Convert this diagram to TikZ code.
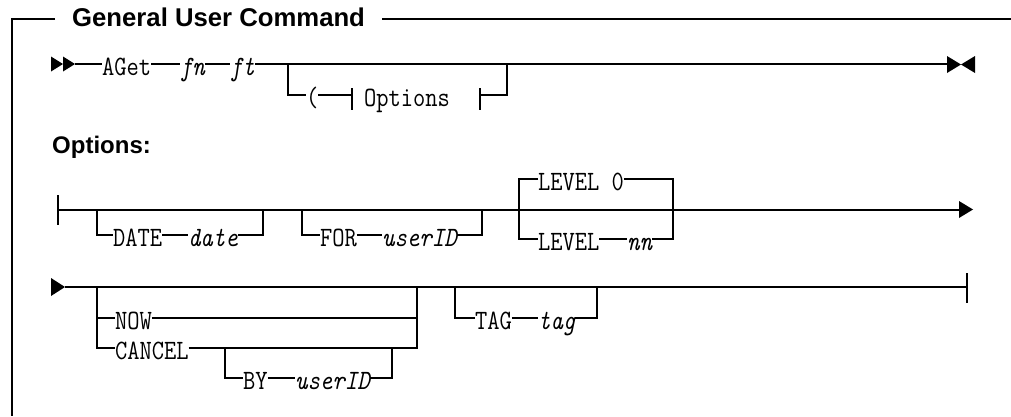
\documentclass[tikz,border=0pt]{standalone}
\usepackage{fontspec}
\setmainfont{Liberation Sans}
\newfontfamily\railmono[FakeStretch=0.85]{Latin Modern Mono}
\newcommand\railtxt{\railmono\fontsize{28}{32}\selectfont}
\tikzset{
  rail/.style={line width=1.3pt, line join=miter},
  frameline/.style={line width=1.8pt},
  kw/.style={inner sep=0pt, outer sep=0pt, text height=23pt, text depth=0pt,
             anchor=west, font=\railtxt},
  var/.style={kw, font=\railtxt\itshape},
  heading/.style={inner sep=0pt, anchor=base west,
                  font=\bfseries\fontsize{24}{28}\selectfont},
  tip/.style={fill=black}
}
\begin{document}
\begin{tikzpicture}[x=1pt,y=-1pt]
\useasboundingbox (0,0) rectangle (1011,416);

% ---- frame and title ----
\node[heading, font=\bfseries\fontsize{25.7}{30}\selectfont] (title) at (72,26) {General User Command};
\coordinate (frTL) at (12,19);
\draw[frameline] (55,19) -- (frTL) -- (12,416);
\draw[frameline] (382,19) -- (1011,19);

% ---- main command ----
\fill[tip] (51,56.5) -- (63,64) -- (51,71.5) -- cycle;
\fill[tip] (63,56.5) -- (75,64) -- (63,71.5) -- cycle;
\coordinate (m1s) at (75,64);
\coordinate (m1e) at (947,64);
\node[kw]  (kAGet) at (102,64) {AGet};
\node[var] (vfn)   at (180,64) {fn};
\node[var] (vft)   at (230,64) {ft};
\draw[rail] (m1s) -- (kAGet.west);
\draw[rail] (kAGet.east) -- (vfn.west);
\draw[rail] (vfn.east) -- (vft.west);
\draw[rail] (vft.east) -- (m1e);
\fill[tip] (947,56) -- (961,64.5) -- (947,73) -- cycle;
\fill[tip] (975,56) -- (961,64.5) -- (975,73) -- cycle;

% optional options fragment
\node[kw] (kparen) at (306,95) {(};
\node[kw] (kopts)  at (364,95) {Options};
\coordinate (barL) at (352,95);
\coordinate (barR) at (480,95);
\draw[rail] (288,64) |- (kparen.west);
\draw[rail] (kparen.east) -- (barL);
\draw[rail] (352,88) -- (352,110);
\draw[rail] (480,88) -- (480,110);
\draw[rail] (barR) -| (507,64);

% ---- options fragment ----
\node[heading] (opthead) at (52,153) {Options:};

% first line
\coordinate (m2s) at (58,210);
\coordinate (m2e) at (959,210);
\draw[rail] (58,195) -- (58,225);
\draw[rail] (m2s) -- (m2e);
\fill[tip] (959,201) -- (973,209.5) -- (959,218) -- cycle;

\node[kw]  (kDATE) at (113,235) {DATE};
\node[var] (vdate) at (188,235) {date};
\draw[rail] (97,210) |- (kDATE.west);
\draw[rail] (kDATE.east) -- (vdate.west);
\draw[rail] (vdate.east) -| (263,210);

\node[kw]  (kFOR)  at (320,235) {FOR};
\node[var] (vuid1) at (382,235) {userID};
\draw[rail] (302,210) |- (kFOR.west);
\draw[rail] (kFOR.east) -- (vuid1.west);
\draw[rail] (vuid1.east) -| (482,210);

\node[kw]  (kLEV0) at (538,179) {LEVEL 0};
\node[kw]  (kLEV)  at (538,239) {LEVEL};
\node[var] (vnn)   at (627,239) {nn};
\draw[rail] (kLEV0.west) -| (519,239) -- (kLEV.west);
\draw[rail] (kLEV0.east) -| (673,239) -- (vnn.east);
\draw[rail] (kLEV.east) -- (vnn.west);

% second line
\coordinate (m3s) at (65,287);
\coordinate (m3e) at (967,287);
\fill[tip] (51,278) -- (65,287) -- (51,296) -- cycle;
\draw[rail] (m3s) -- (m3e);
\draw[rail] (967,273) -- (967,303);

\node[kw] (kNOW) at (115,318) {NOW};
\node[kw] (kCAN) at (115,348) {CANCEL};
\draw[rail] (97,287) |- (kCAN.west);
\draw[rail] (97,318) -- (kNOW.west);
\draw[rail] (kNOW.east) -| (417,287);
\draw[rail] (kCAN.east) -| (417,318);

\node[kw]  (kBY)   at (243,378) {BY};
\node[var] (vuid2) at (295,378) {userID};
\draw[rail] (225,348) |- (kBY.west);
\draw[rail] (kBY.east) -- (vuid2.west);
\draw[rail] (vuid2.east) -| (392,348);

\node[kw]  (kTAG) at (475,318) {TAG};
\node[var] (vtag) at (538,318) {tag};
\draw[rail] (455,287) |- (kTAG.west);
\draw[rail] (kTAG.east) -- (vtag.west);
\draw[rail] (vtag.east) -| (597,287);
\end{tikzpicture}
\end{document}
